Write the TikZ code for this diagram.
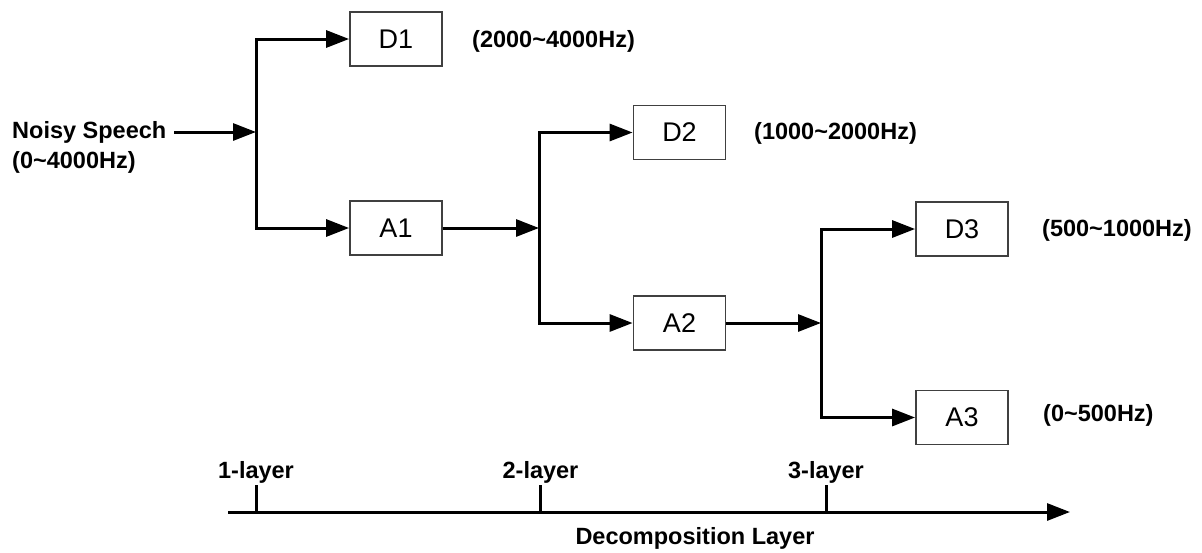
\documentclass[tikz,border=0pt]{standalone}
\usepackage{fontspec}
\setmainfont{Liberation Sans}
\usetikzlibrary{arrows.meta}
\begin{document}
\begin{tikzpicture}[x=1pt,y=-1pt,
  box/.style={draw=black!75,line width=1.8pt,minimum width=92pt,minimum height=54pt,inner sep=0pt,font=\fontsize{27}{30}\selectfont},
  lbl/.style={font=\fontsize{23.5}{27}\selectfont\bfseries,inner sep=0pt},
  conn/.style={line width=3pt,-{Triangle[length=23pt,width=17pt]}},
  wire/.style={line width=3pt}]
\useasboundingbox (0,0) rectangle (1202,552);
% boxes
\node[box] (D1) at (396,39) {D1};
\node[box] (A1) at (396,228) {A1};
\node[box] (D2) at (679.5,132.5) {D2};
\node[box] (A2) at (679.5,323) {A2};
\node[box] (D3) at (962,229) {D3};
\node[box] (A3) at (962,417.5) {A3};
% labels
\node[lbl,anchor=west] (ns) at (12,132) {Noisy Speech};
\node[lbl,anchor=west] (nsr) at (12,162) {(0\textasciitilde 4000Hz)};
\node[lbl,anchor=west] (r1) at (472,41) {(2000\textasciitilde 4000Hz)};
\node[lbl,anchor=west] (r2) at (754,133) {(1000\textasciitilde 2000Hz)};
\node[lbl,anchor=west] (r3) at (1042,230) {(500\textasciitilde 1000Hz)};
\node[lbl,anchor=west] (r4) at (1043,415) {(0\textasciitilde 500Hz)};
% junction coordinates
\coordinate (j1) at (256,132);
\coordinate (j1t) at (256,39);
\coordinate (j1b) at (256,228);
\coordinate (j2) at (539,228);
\coordinate (j2t) at (539,132.5);
\coordinate (j2b) at (539,323);
\coordinate (j3) at (821,323);
\coordinate (j3t) at (821,229);
\coordinate (j3b) at (821,417.5);
\coordinate (in) at (174,132);
% connectors
\draw[conn] (in) -- (j1);
\draw[wire,line cap=rect] (j1t) -- (j1b);
\draw[conn] (j1t) -- (D1.west);
\draw[conn] (j1b) -- (A1.west);
\draw[conn] (A1.east) -- (j2);
\draw[wire,line cap=rect] (j2t) -- (j2b);
\draw[conn] (j2t) -- (D2.west);
\draw[conn] (j2b) -- (A2.west);
\draw[conn] (A2.east) -- (j3);
\draw[wire,line cap=rect] (j3t) -- (j3b);
\draw[conn] (j3t) -- (D3.west);
\draw[conn] (j3b) -- (A3.west);
% axis
\coordinate (ax0) at (228,512);
\coordinate (ax1) at (1070,512);
\draw[conn] (ax0) -- (ax1);
\coordinate (t1) at (256,512);
\coordinate (t2) at (540.5,512);
\coordinate (t3) at (826,512);
\draw[wire] (t1) -- ++(0,-27) coordinate (t1u);
\draw[wire] (t2) -- ++(0,-27) coordinate (t2u);
\draw[wire] (t3) -- ++(0,-27) coordinate (t3u);
\node[lbl,anchor=base] (l1) at ([yshift=7pt]t1u) {1-layer};
\node[lbl,anchor=base] (l2) at ([yshift=7pt]t2u) {2-layer};
\node[lbl,anchor=base] (l3) at ([yshift=7pt]t3u) {3-layer};
\node[lbl] (dl) at (695,538) {Decomposition Layer};
\end{tikzpicture}
\end{document}
